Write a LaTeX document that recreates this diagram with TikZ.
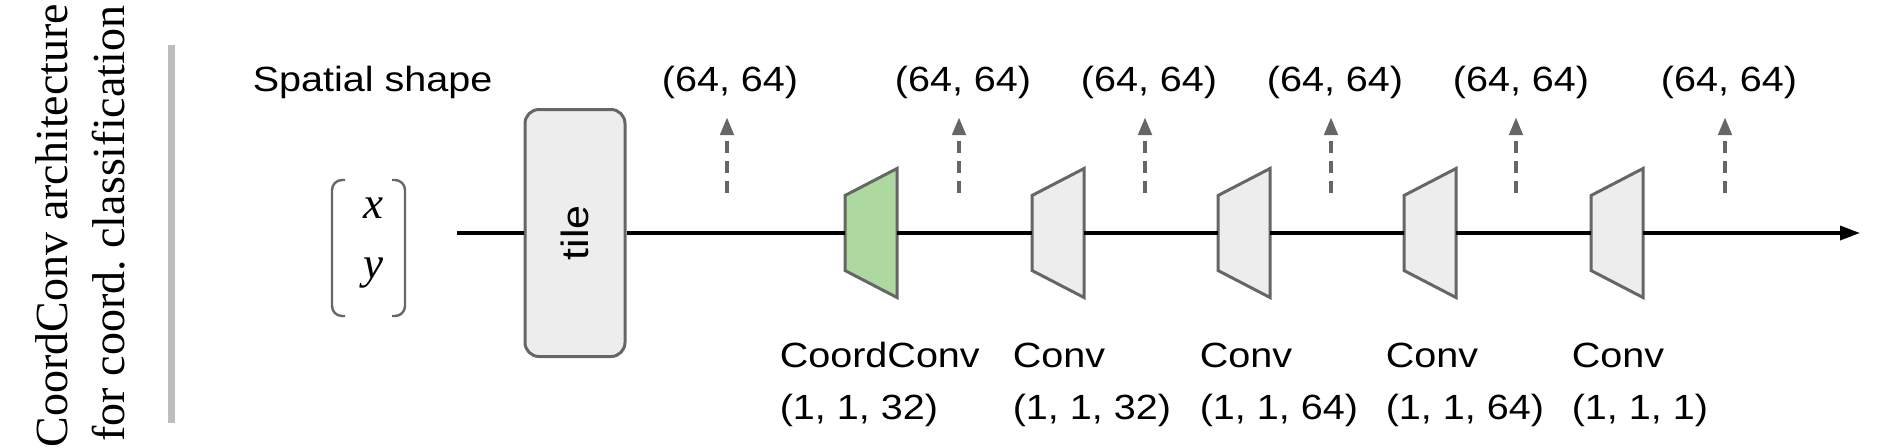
\documentclass[tikz,border=0pt]{standalone}
\usepackage{fontspec}
\setmainfont{Liberation Serif}
\newfontfamily\labelfont[FakeStretch=1.13]{Liberation Sans}
\usetikzlibrary{arrows.meta}

\definecolor{edgegray}{HTML}{666666}
\definecolor{boxgray}{HTML}{EDEDED}
\definecolor{coordgreen}{HTML}{ADD9A0}
\definecolor{rulegray}{HTML}{BDBDBD}

\tikzset{every picture/.style={line width=0.75pt}}
\tikzset{
  lbl/.style={font=\labelfont\fontsize{17.5}{26}\selectfont, inner sep=0pt},
  titletext/.style={font=\fontsize{23}{28}\selectfont, rotate=90, anchor=base east, inner sep=0pt},
  vectext/.style={font=\itshape\fontsize{22.5}{27}\selectfont, anchor=base, inner sep=0pt},
  layerbox/.style={draw=edgegray, line width=1.5pt, fill=boxgray},
  convtrap/.pic={
    \draw[pic actions] (-26,-37.5) -- (26,-64.5) -- (26,64.5) -- (-26,37.5) -- cycle;
    \coordinate (-w) at (-26,0);
    \coordinate (-e) at (26,0);
  },
  shapearrow/.style={draw=edgegray, line width=2.2pt, dash pattern=on 6pt off 4pt,
    -{Triangle[length=9pt,width=6.5pt]}},
  flow/.style={line width=1.7pt},
}

\begin{document}
\begin{tikzpicture}[x=0.5pt,y=0.5pt,yscale=-1]
\useasboundingbox (0,0) rectangle (1885,447);

% Text Node
\node[titletext] (title1) at (68,3) {CoordConv architecture};
% Text Node
\node[titletext] (title2) at (124,5) {for coord.\ classification};
%Straight Lines
\draw[rulegray, line width=3.2pt] (171.5,45) -- (171.5,423);

% Text Node
\node[vectext] (vx) at (373,218) {x};
% Text Node
\node[vectext] (vy) at (373,278) {y};
%Brackets
\draw[edgegray, line width=1.2pt, rounded corners=5pt] (345,180) -- (332,180) -- (332,316) -- (345,316);
\draw[edgegray, line width=1.2pt, rounded corners=5pt] (392,180) -- (405,180) -- (405,316) -- (392,316);

% Tile
\node[draw=edgegray, fill=boxgray, line width=1.5pt, rounded corners=7pt,
  font=\labelfont\fontsize{19}{22}\selectfont, inner sep=0pt,
  minimum width=123.5pt, minimum height=50pt, rotate=90] (tile) at (575,233) {tile};

% Layers
\pic[layerbox, fill=coordgreen] (cc) at (871,233) {convtrap};
\pic[layerbox] (conv1) at (1058,233) {convtrap};
\pic[layerbox] (conv2) at (1244,233) {convtrap};
\pic[layerbox] (conv3) at (1430,233) {convtrap};
\pic[layerbox] (conv4) at (1617,233) {convtrap};

% Main flow
\coordinate (in) at (457,233);
\coordinate (out) at (1860,233);
\draw[flow] (in) -- (tile) -- (cc-w);
\draw[flow] (cc-e) -- (conv1-w);
\draw[flow] (conv1-e) -- (conv2-w);
\draw[flow] (conv2-e) -- (conv3-w);
\draw[flow] (conv3-e) -- (conv4-w);
\draw[flow, -{Triangle[length=10pt,width=7pt]}] (conv4-e) -- (out);

% Shape arrows
\coordinate (s1) at (727,193); \coordinate (t1) at (727,117);
\coordinate (s2) at (959,193); \coordinate (t2) at (959,117);
\coordinate (s3) at (1145,193); \coordinate (t3) at (1145,117);
\coordinate (s4) at (1331,193); \coordinate (t4) at (1331,117);
\coordinate (s5) at (1516,193); \coordinate (t5) at (1516,117);
\coordinate (s6) at (1725,193); \coordinate (t6) at (1725,117);
\draw[shapearrow] (s1) -- (t1);
\draw[shapearrow] (s2) -- (t2);
\draw[shapearrow] (s3) -- (t3);
\draw[shapearrow] (s4) -- (t4);
\draw[shapearrow] (s5) -- (t5);
\draw[shapearrow] (s6) -- (t6);

% Text Node
\node[lbl, anchor=base west] (spatial) at (252,91) {Spatial shape};
% Text Node
\node[lbl, anchor=base] (dim1) at (730,91) {(64, 64)};
\node[lbl, anchor=base] (dim2) at (963,91) {(64, 64)};
\node[lbl, anchor=base] (dim3) at (1149,91) {(64, 64)};
\node[lbl, anchor=base] (dim4) at (1335,91) {(64, 64)};
\node[lbl, anchor=base] (dim5) at (1521,91) {(64, 64)};
\node[lbl, anchor=base] (dim6) at (1729,91) {(64, 64)};

% Text Node
\node[lbl, anchor=base west] (ccname) at (779,367) {CoordConv};
\node[lbl, anchor=base west] (ccsize) at (779,419) {(1, 1, 32)};
% Text Node
\node[lbl, anchor=base west] (conv1name) at (1012,367) {Conv};
\node[lbl, anchor=base west] (conv1size) at (1012,419) {(1, 1, 32)};
% Text Node
\node[lbl, anchor=base west] (conv2name) at (1199,367) {Conv};
\node[lbl, anchor=base west] (conv2size) at (1199,419) {(1, 1, 64)};
% Text Node
\node[lbl, anchor=base west] (conv3name) at (1385,367) {Conv};
\node[lbl, anchor=base west] (conv3size) at (1385,419) {(1, 1, 64)};
% Text Node
\node[lbl, anchor=base west] (conv4name) at (1571,367) {Conv};
\node[lbl, anchor=base west] (conv4size) at (1571,419) {(1, 1, 1)};

\end{tikzpicture}
\end{document}
